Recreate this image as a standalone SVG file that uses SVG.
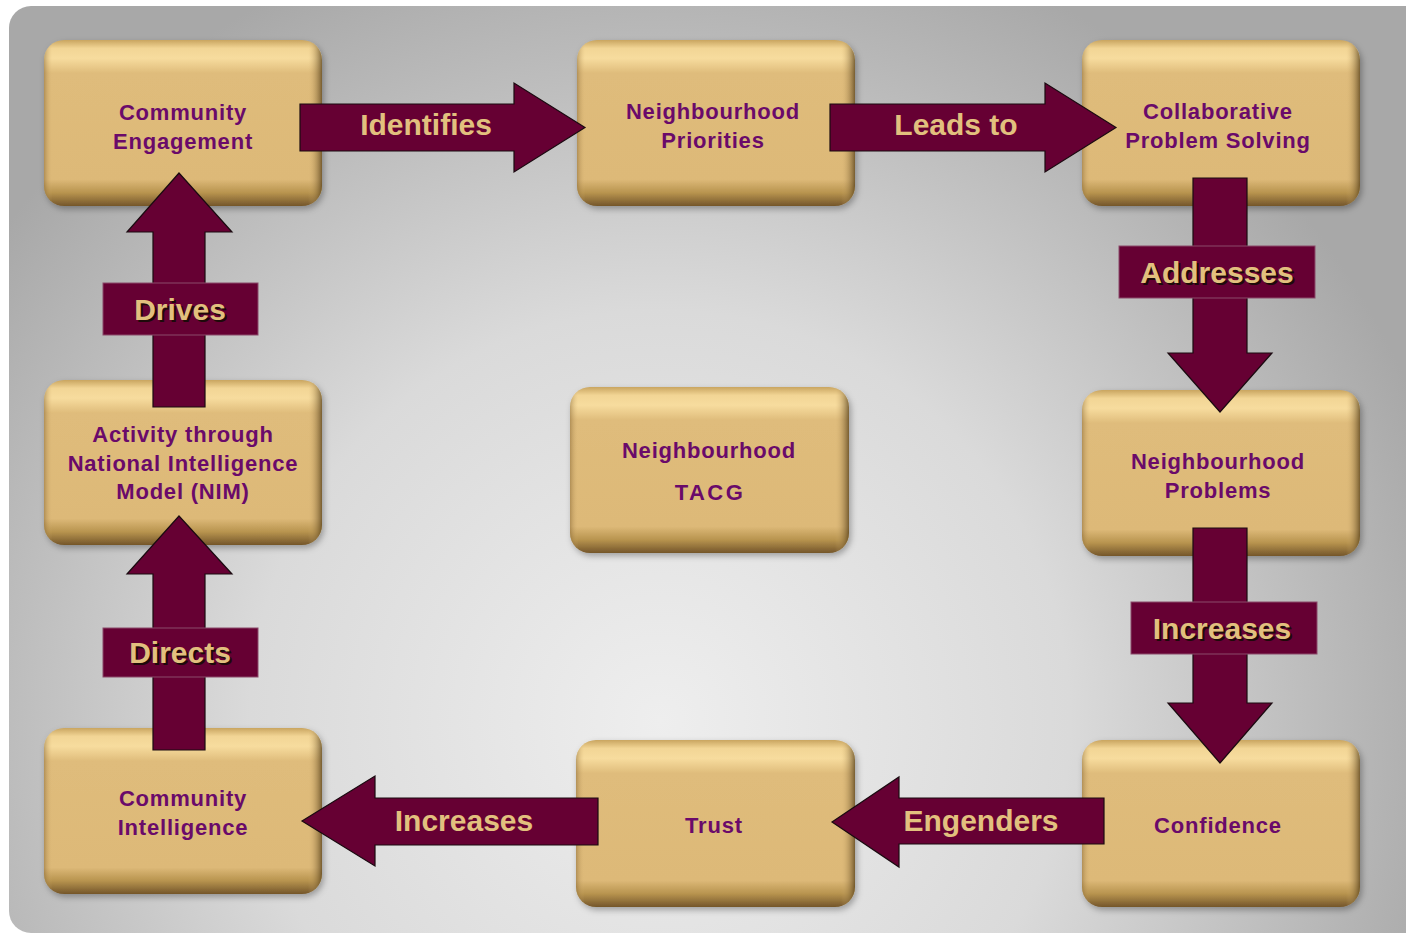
<svg xmlns="http://www.w3.org/2000/svg" width="1406" height="934" viewBox="0 0 1406 934">
<defs>
<radialGradient id="bg" gradientUnits="userSpaceOnUse" cx="660" cy="720" r="820">
<stop offset="0" stop-color="#eeeeee"/>
<stop offset="0.5" stop-color="#dadada"/>
<stop offset="1" stop-color="#a8a8a8"/>
</radialGradient>
<linearGradient id="nodeV" x1="0" y1="0" x2="0" y2="1">
<stop offset="0" stop-color="#c9a560"/>
<stop offset="0.05" stop-color="#f2d595"/>
<stop offset="0.11" stop-color="#f7dc9e"/>
<stop offset="0.2" stop-color="#dfbc7b"/>
<stop offset="0.84" stop-color="#ddb978"/>
<stop offset="0.92" stop-color="#b8944f"/>
<stop offset="1" stop-color="#74562a"/>
</linearGradient>
<linearGradient id="nodeH" x1="0" y1="0" x2="1" y2="0">
<stop offset="0" stop-color="#7a5a2a" stop-opacity="0.45"/>
<stop offset="0.03" stop-color="#dcb878" stop-opacity="0"/>
<stop offset="0.95" stop-color="#dcb878" stop-opacity="0"/>
<stop offset="1" stop-color="#4a3410" stop-opacity="0.7"/>
</linearGradient>
<filter id="sh" x="-10%" y="-10%" width="120%" height="130%">
<feDropShadow dx="2" dy="3" stdDeviation="3" flood-color="#000" flood-opacity="0.3"/>
</filter>
<style>
.nb{fill:url(#nodeV);filter:url(#sh);}
.nh{fill:url(#nodeH);}
.nt{font-family:"Liberation Sans",Arial,sans-serif;font-weight:bold;font-size:22px;fill:#6a0a6a;text-anchor:middle;letter-spacing:0.8px;}
.ar{fill:#660033;stroke:#1a0a10;stroke-width:1.2;stroke-linejoin:miter;}
.lb{fill:#660033;stroke:#8a4a6a;stroke-width:1;}
.lt{font-family:"Liberation Sans",Arial,sans-serif;font-weight:bold;font-size:30px;fill:#e2c07e;text-anchor:middle;}
.ls{font-family:"Liberation Sans",Arial,sans-serif;font-weight:bold;font-size:30px;fill:#1e0a0a;text-anchor:middle;}
</style>
</defs>
<rect x="0" y="0" width="1406" height="934" fill="#ffffff"/>
<rect x="9" y="6" width="1440" height="927" rx="22" fill="url(#bg)"/>

<g id="node-community-engagement">
<rect class="nb" x="44" y="40" width="278" height="166" rx="20"/>
<rect class="nh" x="44" y="40" width="278" height="166" rx="20"/>
<text class="nt" x="183" y="120">Community</text>
<text class="nt" x="183" y="149">Engagement</text>
</g>
<g id="node-neighbourhood-priorities">
<rect class="nb" x="577" y="40" width="278" height="166" rx="20"/>
<rect class="nh" x="577" y="40" width="278" height="166" rx="20"/>
<text class="nt" x="713" y="119">Neighbourhood</text>
<text class="nt" x="713" y="148">Priorities</text>
</g>
<g id="node-collaborative-problem-solving">
<rect class="nb" x="1082" y="40" width="278" height="166" rx="20"/>
<rect class="nh" x="1082" y="40" width="278" height="166" rx="20"/>
<text class="nt" x="1218" y="119">Collaborative</text>
<text class="nt" x="1218" y="148">Problem Solving</text>
</g>
<g id="node-activity-nim">
<rect class="nb" x="44" y="380" width="278" height="165" rx="20"/>
<rect class="nh" x="44" y="380" width="278" height="165" rx="20"/>
<text class="nt" x="183" y="442">Activity through</text>
<text class="nt" x="183" y="471">National Intelligence</text>
<text class="nt" x="183" y="499">Model (NIM)</text>
</g>
<g id="node-neighbourhood-tacg">
<rect class="nb" x="570" y="387" width="279" height="166" rx="20"/>
<rect class="nh" x="570" y="387" width="279" height="166" rx="20"/>
<text class="nt" x="709" y="458">Neighbourhood</text>
<text class="nt" x="710" y="500" style="letter-spacing:2.5px">TACG</text>
</g>
<g id="node-neighbourhood-problems">
<rect class="nb" x="1082" y="390" width="278" height="166" rx="20"/>
<rect class="nh" x="1082" y="390" width="278" height="166" rx="20"/>
<text class="nt" x="1218" y="469">Neighbourhood</text>
<text class="nt" x="1218" y="498">Problems</text>
</g>
<g id="node-community-intelligence">
<rect class="nb" x="44" y="728" width="278" height="166" rx="20"/>
<rect class="nh" x="44" y="728" width="278" height="166" rx="20"/>
<text class="nt" x="183" y="806">Community</text>
<text class="nt" x="183" y="835">Intelligence</text>
</g>
<g id="node-trust">
<rect class="nb" x="576" y="740" width="279" height="167" rx="20"/>
<rect class="nh" x="576" y="740" width="279" height="167" rx="20"/>
<text class="nt" x="714" y="833">Trust</text>
</g>
<g id="node-confidence">
<rect class="nb" x="1082" y="740" width="278" height="167" rx="20"/>
<rect class="nh" x="1082" y="740" width="278" height="167" rx="20"/>
<text class="nt" x="1218" y="833">Confidence</text>
</g>

<g id="connectors">
<g id="arrow-identifies">
<path class="ar" d="M300,104 L514,104 L514,83 L585,127.5 L514,172 L514,151 L300,151 Z"/>
<text class="lt" x="426" y="135">Identifies</text>
</g>
<g id="arrow-leads-to">
<path class="ar" d="M830,104 L1045,104 L1045,83 L1116,127.5 L1045,172 L1045,151 L830,151 Z"/>
<text class="lt" x="956" y="135">Leads to</text>
</g>
<g id="arrow-addresses">
<path class="ar" d="M1193,178 L1247,178 L1247,353 L1272,353 L1220,412 L1168,353 L1193,353 Z"/>
<rect class="lb" x="1119" y="246" width="196" height="52"/>
<text class="ls" x="1219" y="285">Addresses</text>
<text class="lt" x="1217" y="283">Addresses</text>
</g>
<g id="arrow-increases-right">
<path class="ar" d="M1193,528 L1247,528 L1247,703 L1272,703 L1220,763 L1168,703 L1193,703 Z"/>
<rect class="lb" x="1131" y="602" width="186" height="52"/>
<text class="ls" x="1224" y="641">Increases</text>
<text class="lt" x="1222" y="639">Increases</text>
</g>
<g id="arrow-engenders">
<path class="ar" d="M1104,798 L899,798 L899,777 L832,822 L899,867 L899,844 L1104,844 Z"/>
<text class="lt" x="981" y="831">Engenders</text>
</g>
<g id="arrow-increases-bottom">
<path class="ar" d="M598,798 L375,798 L375,776 L302,821 L375,866 L375,845 L598,845 Z"/>
<text class="lt" x="464" y="831">Increases</text>
</g>
<g id="arrow-directs">
<path class="ar" d="M153,750 L205,750 L205,574 L232,574 L179,516 L127,574 L153,574 Z"/>
<rect class="lb" x="103" y="628" width="155" height="49"/>
<text class="ls" x="182" y="665">Directs</text>
<text class="lt" x="180" y="663">Directs</text>
</g>
<g id="arrow-drives">
<path class="ar" d="M153,407 L205,407 L205,232 L232,232 L179,173 L127,232 L153,232 Z"/>
<rect class="lb" x="103" y="283" width="155" height="52"/>
<text class="ls" x="182" y="322">Drives</text>
<text class="lt" x="180" y="320">Drives</text>
</g>
</g>
</svg>
